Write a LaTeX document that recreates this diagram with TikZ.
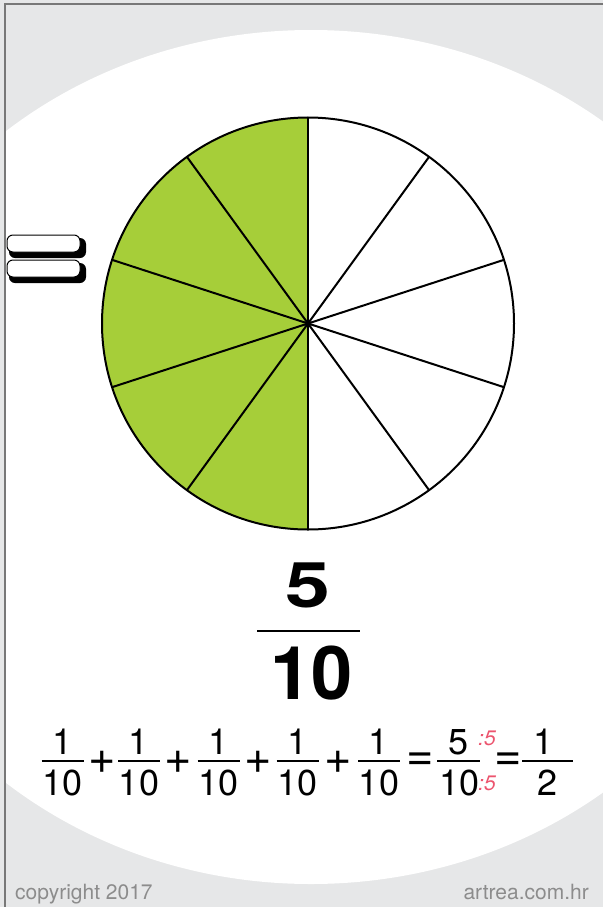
\documentclass[tikz,border=0pt]{standalone}
\usepackage{fontspec}
\setmainfont{TeX Gyre Heros}
\usepackage{graphicx}
\usetikzlibrary{positioning}
\definecolor{panelgrey}{RGB}{230,231,232}
\definecolor{edgegrey}{RGB}{120,120,120}
\definecolor{piegreen}{RGB}{166,206,57}
\definecolor{hintred}{RGB}{236,84,110}
\definecolor{footgrey}{RGB}{140,140,140}

\begin{document}
\begin{tikzpicture}[
  x=1pt,y=-1pt,
  num/.style={anchor=base,inner sep=0pt,font=\fontsize{36}{36}\selectfont},
  sign/.style={inner ysep=0pt,inner xsep=-3pt,font=\fontsize{47}{47}\selectfont},
  bignum/.style={anchor=base,inner sep=0pt,font=\fontsize{74}{74}\selectfont\bfseries},
  hint/.style={anchor=base west,inner sep=0pt,text=hintred,font=\fontsize{21}{21}\selectfont\itshape},
  foot/.style={inner sep=0pt,text=footgrey,font=\fontsize{21}{21}\selectfont},
  fracbar/.style={line width=2pt},
  slice/.style={line width=2pt,line join=round,line cap=round}
]
\useasboundingbox (0,0) rectangle (603,907);
\fill[panelgrey] (0,0) rectangle (603,907);
\begin{scope}
  \clip (6,5) rectangle (603,907);
  \fill[white] (311,457) ellipse [x radius=472,y radius=427];
\end{scope}
\draw[edgegrey,line width=1.5pt] (603,4) -- (5,4) -- (5,907);

% the hand drawn equals sign
\fill[rounded corners=6pt] (9,238) rectangle (86,258);
\filldraw[fill=white,line width=1pt,rounded corners=6pt] (7,235) rectangle (80,252);
\fill[rounded corners=6pt] (9,263) rectangle (86,283);
\filldraw[fill=white,line width=1pt,rounded corners=6pt] (7,260) rectangle (80,277);

% the pie
\coordinate (ctr) at (308,323.5);
\fill[piegreen] (ctr) -- ++(90:206) arc[start angle=90,end angle=270,radius=206] -- cycle;
\foreach \a in {18,54,...,342}
  \draw[slice] (ctr) -- ++(\a:206);
\draw[line width=2pt] (ctr) circle [radius=206];

% the big fraction
\node[bignum,font=\fontsize{63}{63}\selectfont\bfseries] (bigtop) at (308,607) {\scalebox{1.28}[1]{5}};
\node[bignum] (bigbot) at (311.5,699) {10};
\draw[line width=2.5pt] (257,631) -- (360,631);

% the sum
\foreach \fx/\nm in {62.5/a,139/b,218.5/c,297.5/d,379/e}{
  \node[num] (top\nm) at (\fx,754) {1};
  \node[num] (bot\nm) at (\fx,795) {10};
  \draw[fracbar] (\fx-21,761) -- (\fx+21,761);
}
\foreach \px [count=\i] in {102,178,258,338}
  \node[sign] (plus\i) at (\px,762) {+};
\node[sign] (eqa) at (420,762) {=};
\node[num] (topf) at (459,754) {5};
\node[num] (botf) at (459.5,795) {10};
\draw[fracbar] (437,761) -- (480,761);
\node[hint] (hinttop) at (478,745) {:5};
\node[hint] (hintbot) at (478,790) {:5};
\node[sign] (eqb) at (508,762) {=};
\node[num] (toph) at (544,754) {1};
\node[num] (both) at (547.5,795) {2};
\draw[fracbar] (522,761) -- (573,761);

\node[foot,anchor=base west] (copy) at (15,899) {copyright 2017};
\node[foot,anchor=base east] (site) at (589,899) {artrea.com.hr};
\end{tikzpicture}
\end{document}
